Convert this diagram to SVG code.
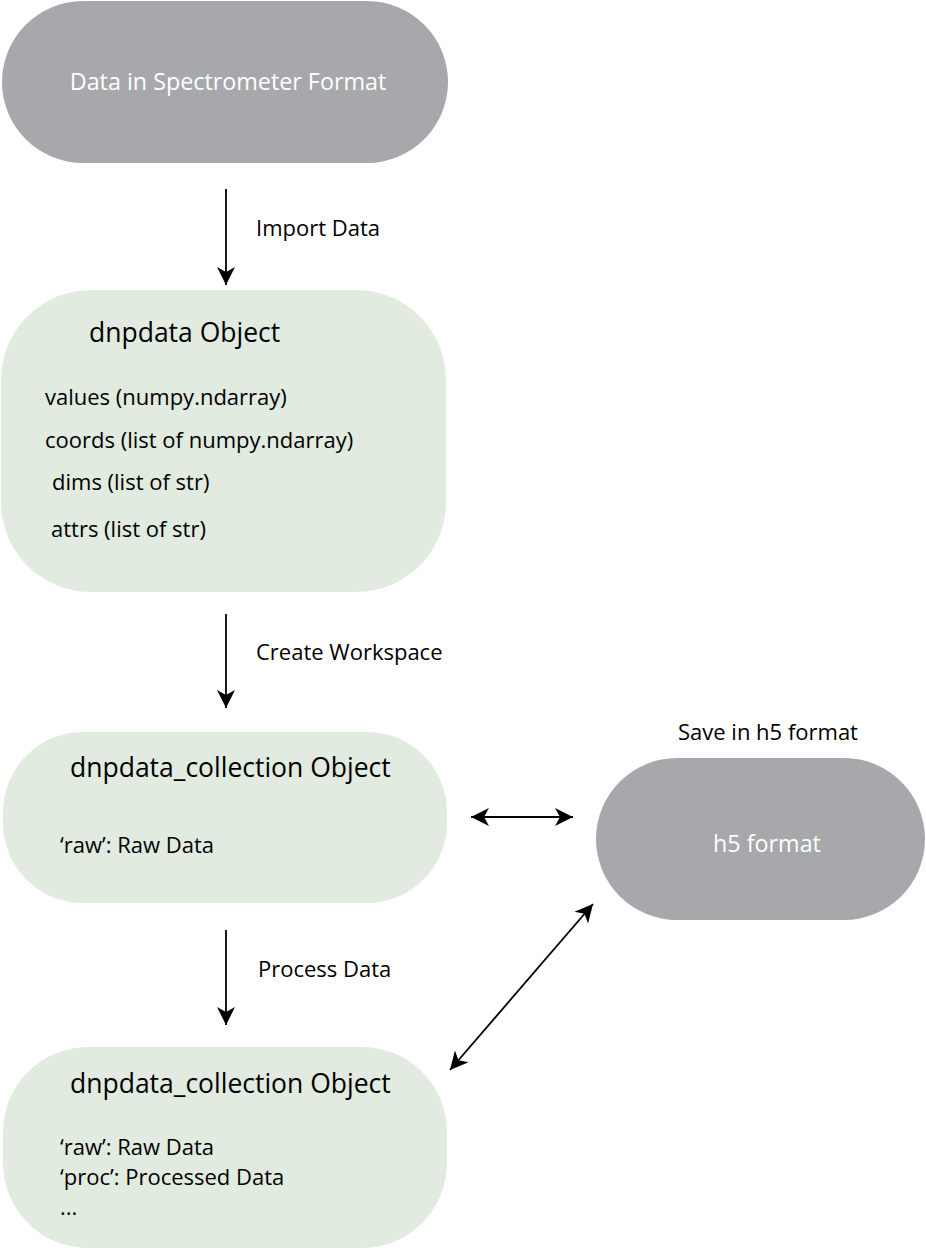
<svg xmlns="http://www.w3.org/2000/svg" width="926" height="1250" viewBox="0 0 926 1250">
<defs>
<style>
.gray{fill:#a7a8ab}
.green{fill:#e1ebdf}
.wt{fill:#ffffff;font-family:"Open Sans","Liberation Sans",sans-serif;font-size:23.3px}
.t{fill:#000000;font-family:"Open Sans","Liberation Sans",sans-serif}
.title{font-size:26.5px}
.body{font-size:22px}
.lab{font-size:22px}
.conn{stroke:#000;stroke-width:1.8;fill:none}
</style>
<marker id="ah" markerUnits="userSpaceOnUse" markerWidth="22" markerHeight="22" viewBox="-20 -10 22 20" refX="0" refY="0" orient="auto-start-reverse">
<path d="M0,0 L-18,-9 L-13,0 L-18,9 Z" fill="#000"/>
</marker>
</defs>
<rect width="926" height="1250" fill="#ffffff"/>
<g id="node-spectrometer">
<rect class="gray" x="2" y="1" width="446" height="162" rx="81" ry="81"/>
<text class="wt" x="228" y="90" text-anchor="middle">Data in Spectrometer Format</text>
</g>
<g id="node-dnpdata">
<rect class="green" x="1" y="290" width="445" height="302" rx="90" ry="90"/>
<text class="t title" x="89" y="342">dnpdata Object</text>
<text class="t body" x="45" y="405">values (numpy.ndarray)</text>
<text class="t body" x="45" y="448">coords (list of numpy.ndarray)</text>
<text class="t body" x="52" y="490">dims (list of str)</text>
<text class="t body" x="51" y="537">attrs (list of str)</text>
</g>
<g id="node-collection1">
<rect class="green" x="3" y="732" width="444" height="171" rx="80" ry="80"/>
<text class="t title" x="70" y="777">dnpdata_collection Object</text>
<text class="t body" x="60" y="853">‘raw’: Raw Data</text>
</g>
<g id="node-collection2">
<rect class="green" x="3" y="1047" width="444" height="201" rx="85" ry="85"/>
<text class="t title" x="70" y="1093">dnpdata_collection Object</text>
<text class="t body" x="60" y="1155">‘raw’: Raw Data</text>
<text class="t body" x="60" y="1185">‘proc’: Processed Data</text>
<text class="t body" x="60" y="1215">...</text>
</g>
<g id="node-h5">
<rect class="gray" x="596" y="758" width="329" height="162" rx="81" ry="81"/>
<text class="wt" x="767" y="852" text-anchor="middle">h5 format</text>
<text class="t lab" x="678" y="740">Save in h5 format</text>
</g>
<g id="connectors">
<line class="conn" x1="226" y1="189" x2="226" y2="285" marker-end="url(#ah)"/>
<line class="conn" x1="226" y1="614" x2="226" y2="708" marker-end="url(#ah)"/>
<line class="conn" x1="226" y1="930" x2="226" y2="1025" marker-end="url(#ah)"/>
<line class="conn" x1="471" y1="817" x2="573" y2="817" marker-start="url(#ah)" marker-end="url(#ah)"/>
<line class="conn" x1="450" y1="1070" x2="593" y2="904" marker-start="url(#ah)" marker-end="url(#ah)"/>
<text class="t lab" x="256" y="236">Import Data</text>
<text class="t lab" x="256" y="660">Create Workspace</text>
<text class="t lab" x="258" y="977">Process Data</text>
</g>
</svg>
